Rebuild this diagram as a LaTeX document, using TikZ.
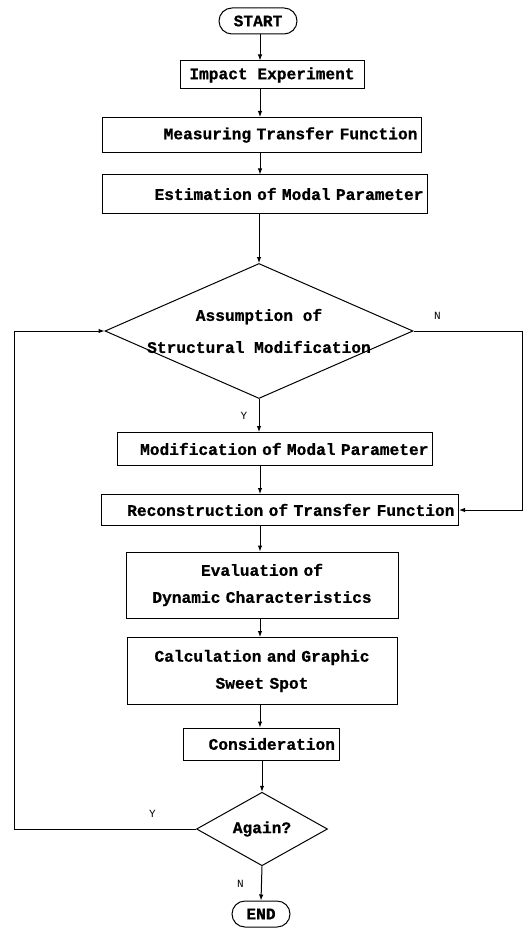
\documentclass[tikz,border=0pt]{standalone}
\usepackage{fontspec}
\setmonofont{Liberation Mono}[WordSpace={1,0,0}, BoldFeatures={FakeBold=0.8}]
\usetikzlibrary{shapes.geometric,shapes.misc,arrows.meta}
\begin{document}
\begin{tikzpicture}[x=1pt, y=-1pt,
	font=\ttfamily\bfseries\fontsize{16.2}{27}\selectfont,
	flow/.style={line width=1pt, -{Latex[length=6pt,width=4.5pt]}},
	term node/.style={draw, line width=1pt, rounded rectangle, minimum width=58pt, minimum height=26pt, inner sep=0pt},
	proc node/.style={draw, line width=1pt, rectangle, inner xsep=4pt, inner ysep=0pt},
	test node/.style={draw, line width=1pt, diamond, inner sep=0pt},
	yn/.style={font=\ttfamily\fontsize{11}{12}\selectfont}]
	
	\useasboundingbox (0,0) rectangle (526,928);
	\coordinate (ax) at (260,0);
	\coordinate (rt) at (522,0);
	\coordinate (lf) at (14,0);
	
	\node[term node, minimum width=78pt] (start) at (258,21) {START};
	\node[proc node, minimum width=184pt, minimum height=28pt] (imp) at (272,75) {Impact Experiment};
	\node[proc node, text width=311pt, align=right, minimum height=35pt] (meas) at (262,135) {Measuring Transfer Function\hspace*{8pt}};
	\node[proc node, text width=317pt, align=right, minimum height=38pt] (est) at (265,194) {Estimation of Modal Parameter};
	\node[test node, minimum width=308pt, minimum height=135pt,
		label={[align=center]center:Assumption of\\[5pt]Structural Modification}] (q1) at (259,331) {};
	\node[proc node, text width=307pt, align=right, minimum height=33pt] (mod) at (275,449) {Modification of Modal Parameter};
	\node[proc node, text width=349pt, align=right, minimum height=31pt] (recon) at (280,510) {Reconstruction of Transfer Function};
	\node[proc node, text width=264pt, align=center, minimum height=66pt] (eval) at (262,585) {Evaluation of\\Dynamic Characteristics};
	\node[proc node, text width=262pt, align=center, minimum height=67pt] (calc) at (262,671) {Calculation and Graphic\\Sweet Spot};
	\node[proc node, text width=148pt, align=right, minimum height=32pt] (cons) at (261,744) {Consideration};
	\node[test node, minimum width=131pt, minimum height=58pt] (q2) at (262,829) {Again?};
	\node[term node] (stop) at (261,914) {END};
	
	\draw[flow] (start.south -| ax) -- (imp.north -| ax);
	\draw[flow] (imp.south -| ax) -- (meas.north -| ax);
	\draw[flow] (meas.south -| ax) -- (est.north -| ax);
	\draw[flow] (est.south -| q1.north) -- (q1.north);
	\draw[flow] (q1.south) -- node[yn, left=8pt] {Y} (q1.south |- mod.north);
	\draw[flow] (mod.south -| ax) -- (recon.north -| ax);
	\draw[flow] (q1.east) -- node[yn, pos=0.22, above=8pt] {N} (rt |- q1.east) -- (rt |- recon.east) -- (recon.east);
	\draw[flow] (recon.south -| ax) -- (eval.north -| ax);
	\draw[flow] (eval.south -| ax) -- (calc.north -| ax);
	\draw[flow] (calc.south -| ax) -- (cons.north -| ax);
	\draw[flow] (cons.south -| q2.north) -- (q2.north);
	\draw[flow] (q2.south) -- node[yn, left=14pt] {N} (stop.north);
	\draw[flow] (q2.west) -- node[yn, pos=0.24, above=8pt] {Y} (lf |- q2.west) -- (lf |- q1.west) -- (q1.west);
\end{tikzpicture}
\end{document}
